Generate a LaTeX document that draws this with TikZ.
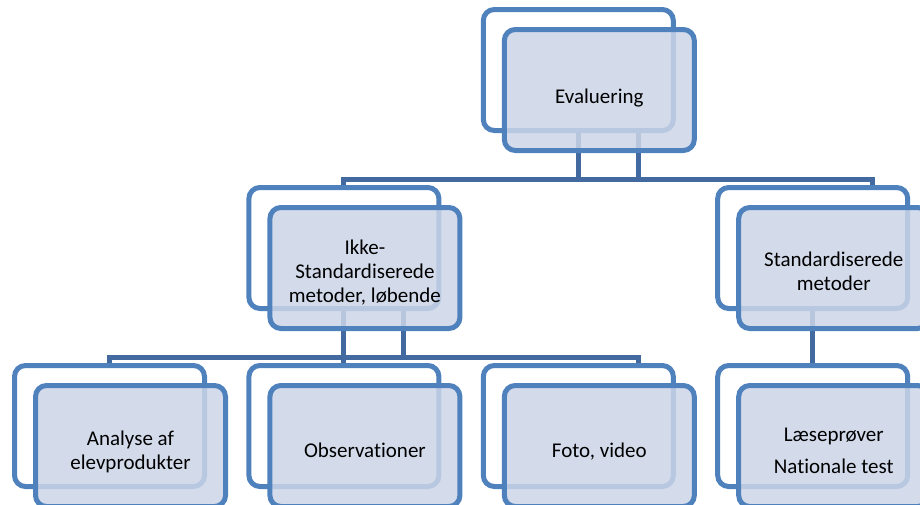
\documentclass[tikz,border=0pt]{standalone}
\usepackage{fontspec}
\setmainfont[Ligatures=NoCommon]{Carlito}
\definecolor{bord}{RGB}{79,129,189}
\definecolor{connc}{RGB}{66,106,160}
\definecolor{ffill}{RGB}{204,213,232}
\newcommand{\boxtext}[2][5pt]{\raisebox{-#1}[\height][\depth]{\begin{tabular}{@{}c@{}}#2\end{tabular}}}
\tikzset{
  backbox/.style={draw=bord, line width=5pt, fill=white, rounded corners=11pt,
    minimum width=190pt, minimum height=121pt, inner sep=0pt, outer sep=0pt},
  frontbox/.style={draw=bord, line width=5pt, fill=ffill, fill opacity=0.85,
    text opacity=1, rounded corners=11pt, minimum width=190pt, minimum height=121pt,
    inner sep=0pt, outer sep=0pt, align=center, text=black,
    font=\fontsize{21}{24}\selectfont},
  conn/.style={draw=connc, line width=5pt}
}
\begin{document}
\begin{tikzpicture}[x=1pt,y=-1pt]
\useasboundingbox (0,0) rectangle (920,504);
\clip (0,0) rectangle (920,504);
\coordinate (bus1) at (0,179.5);
\coordinate (bus2) at (0,357.5);
\path
  node[backbox, draw=none, fill=none] (eB) at (578.3,70) {}
  node[backbox, draw=none, fill=none] (iB) at (343.9,248) {}
  node[backbox, draw=none, fill=none] (sB) at (812.7,248) {}
  node[backbox, draw=none, fill=none] (aB) at (109.5,426) {}
  node[backbox, draw=none, fill=none] (oB) at (343.9,426) {}
  node[backbox, draw=none, fill=none] (fB) at (578.3,426) {}
  node[backbox, draw=none, fill=none] (lB) at (812.7,426) {};
% connectors
\draw[conn] (iB.north) |- ([xshift=60pt]sB.north |- bus1) -- ([xshift=60pt]sB.north);
\draw[conn] (eB.south) -- (eB.south |- bus1);
\draw[conn] ([xshift=60pt]eB.south) -- ([xshift=60pt]eB.south |- bus1);
\draw[conn] (aB.north) |- ([xshift=60pt]fB.north |- bus2) -- ([xshift=60pt]fB.north);
\draw[conn] (iB.south) -- (oB.north);
\draw[conn] ([xshift=60pt]iB.south) -- ([xshift=60pt]iB.south |- bus2);
\draw[conn] (sB.south) -- (lB.north);
% back boxes
\foreach \n in {eB,iB,sB,aB,oB,fB,lB}
  \node[backbox] at (\n) {};
% front boxes
\node[frontbox] (eF) at (599.3,90) {\boxtext[9pt]{Evaluering}};
\node[frontbox] (iF) at (364.9,268) {\boxtext[6pt]{Ikke-\\Standardiserede\\metoder, løbende}};
\node[frontbox] (sF) at (833.7,268) {\boxtext[6pt]{Standardiserede\\metoder}};
\node[frontbox] (aF) at (130.5,446) {\boxtext[7pt]{Analyse af\\elevprodukter}};
\node[frontbox] (oF) at (364.9,446) {\boxtext[7pt]{Observationer}};
\node[frontbox] (fF) at (599.3,446) {\boxtext[7pt]{Foto, video}};
\node[frontbox] (lF) at (833.7,446) {\boxtext[7pt]{Læseprøver\\[8pt]Nationale test}};
\end{tikzpicture}
\end{document}
